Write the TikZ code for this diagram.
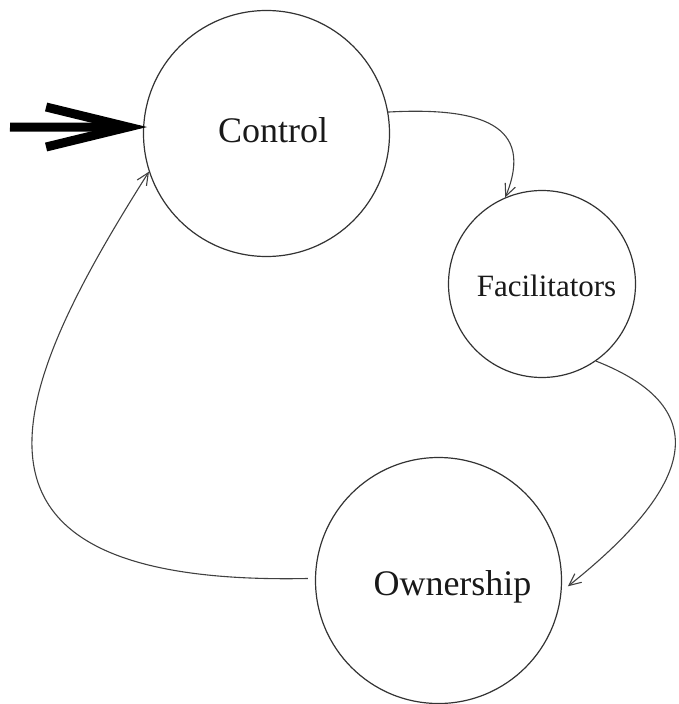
\documentclass[tikz,border=0pt]{standalone}
\usepackage{fontspec}
\setmainfont{Liberation Serif}
\usetikzlibrary{arrows.meta}
\begin{document}
\begin{tikzpicture}[x=1pt,y=-1pt,
  state/.style={circle,draw=black!80,line width=1.2pt,inner sep=0pt},
  lbl/.style={anchor=base,inner sep=0pt,text=black!90},
  flow/.style={draw=black!75,line width=1.1pt,-{Straight Barb[sharp,length=12pt,width=11pt]}},
  bigarrow/.style={line width=9pt,-{Straight Barb[sharp,length=82pt,width=40pt]}}]
\useasboundingbox (0,0) rectangle (678,704);
\node[state,minimum size=246pt] (ctl) at (266.5,133.5) {};
\node[state,minimum size=187pt] (fac) at (542,284) {};
\node[state,minimum size=246pt] (own) at (438.5,580.5) {};
\node[lbl,font=\fontsize{36}{40}\selectfont] (ctlT) at (273,142) {Control};
\node[lbl,font=\fontsize{31}{36}\selectfont] (facT) at (546.5,296) {Facilitators};
\node[lbl,font=\fontsize{36}{40}\selectfont] (ownT) at (452.5,595) {Ownership};
\coordinate (src) at (10,127);
\draw[bigarrow,shorten >=-4pt] (src) -- (ctl.177);
\draw[flow] (ctl.10) .. controls +(92,-5) and +(30,-73) .. (fac.113);
\draw[flow,shorten >=8pt] (fac.-55) .. controls +(112,44) and +(142,-113) .. (own.-5);
\draw[flow,shorten <=7pt] (own.179) .. controls +(-390,8) and +(-138,218) .. (ctl.198);
\end{tikzpicture}
\end{document}
